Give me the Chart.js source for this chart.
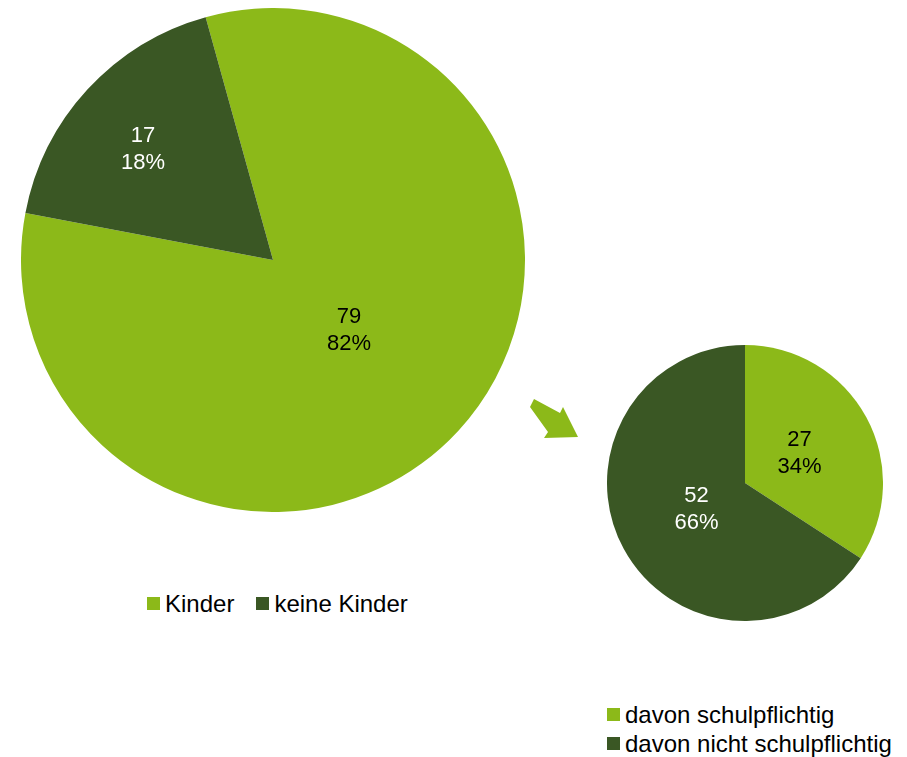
<!DOCTYPE html>
<html>
<head>
<meta charset="utf-8">
<script src="https://cdn.jsdelivr.net/npm/chart.js@4"></script>
<style>
  body { margin: 0; background: #fff; width: 907px; height: 757px; position: relative; overflow: hidden;
         font-family: "Liberation Sans", Arial, sans-serif; }
  canvas { position: absolute; }
  .legend { position: absolute; font-size: 24px; color: #000; }
  .legend span.item { display: inline-flex; align-items: center; white-space: nowrap; }
  .legend i { display: inline-block; width: 13px; height: 13px; margin-right: 5px; }
  #arrow { position: absolute; left: 525px; top: 395px; }
</style>
</head>
<body>
<canvas id="mainPie" width="504" height="504" style="left:21px;top:8px"></canvas>
<canvas id="subPie" width="276" height="276" style="left:607px;top:345px"></canvas>
<div class="legend" id="mainLegend" style="left:147px;top:588px"></div>
<div class="legend" id="subLegend" style="left:607px;top:700px;line-height:29px"></div>
<svg id="arrow" width="60" height="50" viewBox="0 0 60 50">
  <polygon points="5,12 9,4 35,18 38,12 53,42 19,43 23,37" fill="#8cb919" />
</svg>
<script>
const mainLabels = ["Kinder", "keine Kinder"];
const mainValues = [79, 17];
const subLabels = ["davon schulpflichtig", "davon nicht schulpflichtig"];
const subValues = [27, 52];

const LIGHT = "#8cb919";
const DARK = "#3a5724";

// Werte + Prozent mittig in die Segmente schreiben
const sliceLabels = {
  id: "sliceLabels",
  afterDatasetsDraw(chart, args, opts) {
    const ctx = chart.ctx;
    const meta = chart.getDatasetMeta(0);
    const values = chart.data.datasets[0].data;
    const total = values.reduce((a, b) => a + b, 0);
    ctx.save();
    ctx.font = "22px 'Liberation Sans', Arial, sans-serif";
    ctx.textAlign = "center";
    ctx.textBaseline = "middle";
    meta.data.forEach((arc, i) => {
      const p = arc.getProps(["x", "y", "startAngle", "endAngle", "outerRadius"], true);
      const mid = (p.startAngle + p.endAngle) / 2 + opts.shift[i];
      const r = p.outerRadius * opts.radius[i];
      const x = p.x + Math.cos(mid) * r;
      const y = p.y + Math.sin(mid) * r;
      ctx.fillStyle = opts.colors[i];
      ctx.fillText(String(values[i]), x, y - 13);
      ctx.fillText(Math.round((values[i] / total) * 100) + "%", x, y + 14);
    });
    ctx.restore();
  },
};

function makePie(id, labels, values, rotation, labelRadius, labelShift) {
  return new Chart(document.getElementById(id), {
    type: "pie",
    data: {
      labels: labels,
      datasets: [
        {
          data: values,
          backgroundColor: [LIGHT, DARK],
          borderWidth: 0,
        },
      ],
    },
    options: {
      responsive: false,
      animation: false,
      rotation: rotation,
      layout: { padding: 0 },
      plugins: {
        legend: { display: false },
        tooltip: { enabled: false },
        sliceLabels: { radius: labelRadius, shift: labelShift, colors: ["#000", "#fff"] },
      },
    },
    plugins: [sliceLabels],
  });
}

function buildLegend(id, labels, inline) {
  const colors = [LIGHT, DARK];
  document.getElementById(id).innerHTML = labels
    .map(
      (l, i) =>
        `<span class="item" style="${inline ? "margin-right:22px" : "display:flex"}"><i style="background:${colors[i]}"></i>${l}</span>`
    )
    .join("");
}

makePie("mainPie", mainLabels, mainValues, -15.5, [0.41, 0.68], [0, -0.035]);
makePie("subPie", subLabels, subValues, 0, [0.45, 0.4], [0, 0]);
buildLegend("mainLegend", mainLabels, true);
buildLegend("subLegend", subLabels, false);
</script>
</body>
</html>
